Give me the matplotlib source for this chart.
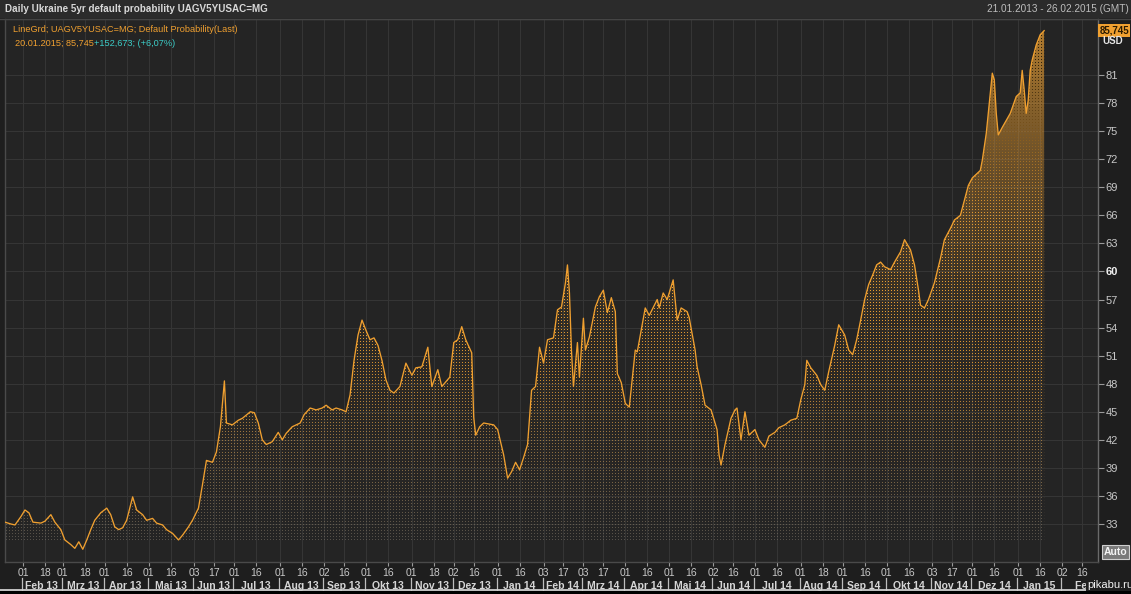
import numpy as np
import matplotlib
matplotlib.use('Agg')
import matplotlib.pyplot as plt
from matplotlib.lines import Line2D
from matplotlib.patches import Rectangle
import matplotlib.transforms as mtransforms

# Daily Ukraine 5yr default probability (UAGV5YUSAC=MG)
obs_dates = [
    '2013-01-21', '2013-01-24', '2013-01-28', '2013-01-31', '2013-02-04', '2013-02-06', '2013-02-08',
    '2013-02-14', '2013-02-18', '2013-02-21', '2013-02-25', '2013-02-28', '2013-03-04', '2013-03-07',
    '2013-03-11', '2013-03-13', '2013-03-15', '2013-03-19', '2013-03-21', '2013-03-25', '2013-03-28',
    '2013-04-02', '2013-04-04', '2013-04-08', '2013-04-10', '2013-04-12', '2013-04-16', '2013-04-19',
    '2013-04-23', '2013-04-26', '2013-04-30', '2013-05-03', '2013-05-07', '2013-05-10', '2013-05-14',
    '2013-05-17', '2013-05-22', '2013-05-24', '2013-05-29', '2013-05-31', '2013-06-05', '2013-06-07',
    '2013-06-11', '2013-06-14', '2013-06-18', '2013-06-20', '2013-06-24', '2013-06-25', '2013-06-28',
    '2013-07-03', '2013-07-05', '2013-07-11', '2013-07-15', '2013-07-17', '2013-07-19', '2013-07-23',
    '2013-07-26', '2013-07-31', '2013-08-02', '2013-08-06', '2013-08-09', '2013-08-15', '2013-08-19',
    '2013-08-22', '2013-08-27', '2013-08-30', '2013-09-03', '2013-09-06', '2013-09-10', '2013-09-13',
    '2013-09-17', '2013-09-19', '2013-09-23', '2013-09-25', '2013-09-27', '2013-10-01', '2013-10-03',
    '2013-10-07', '2013-10-09', '2013-10-11', '2013-10-15', '2013-10-17', '2013-10-21', '2013-10-24',
    '2013-10-29', '2013-11-01', '2013-11-05', '2013-11-08', '2013-11-13', '2013-11-15', '2013-11-20',
    '2013-11-22', '2013-11-28', '2013-12-02', '2013-12-04', '2013-12-06', '2013-12-10', '2013-12-13',
    '2013-12-16', '2013-12-17', '2013-12-19', '2013-12-23', '2013-12-30', '2014-01-01', '2014-01-06',
    '2014-01-08', '2014-01-10', '2014-01-14', '2014-01-16', '2014-01-20', '2014-01-22', '2014-01-24',
    '2014-01-28', '2014-01-30', '2014-02-03', '2014-02-05', '2014-02-10', '2014-02-12', '2014-02-14',
    '2014-02-18', '2014-02-19', '2014-02-20', '2014-02-21', '2014-02-24', '2014-02-26', '2014-02-27',
    '2014-03-03', '2014-03-04', '2014-03-06', '2014-03-11', '2014-03-13', '2014-03-17', '2014-03-19',
    '2014-03-21', '2014-03-25', '2014-03-26', '2014-03-28', '2014-04-01', '2014-04-03', '2014-04-08',
    '2014-04-09', '2014-04-15', '2014-04-17', '2014-04-23', '2014-04-24', '2014-04-28', '2014-04-30',
    '2014-05-05', '2014-05-07', '2014-05-09', '2014-05-14', '2014-05-15', '2014-05-20', '2014-05-21',
    '2014-05-23', '2014-05-27', '2014-05-30', '2014-06-04', '2014-06-05', '2014-06-06', '2014-06-10',
    '2014-06-13', '2014-06-17', '2014-06-18', '2014-06-20', '2014-06-24', '2014-06-26', '2014-07-01',
    '2014-07-03', '2014-07-08', '2014-07-10', '2014-07-15', '2014-07-17', '2014-07-22', '2014-07-25',
    '2014-07-30', '2014-08-01', '2014-08-05', '2014-08-06', '2014-08-08', '2014-08-13', '2014-08-15',
    '2014-08-19', '2014-08-21', '2014-08-26', '2014-08-28', '2014-09-02', '2014-09-04', '2014-09-08',
    '2014-09-10', '2014-09-12', '2014-09-16', '2014-09-18', '2014-09-22', '2014-09-24', '2014-09-26',
    '2014-09-30', '2014-10-03', '2014-10-07', '2014-10-10', '2014-10-14', '2014-10-17', '2014-10-21',
    '2014-10-23', '2014-10-24', '2014-10-28', '2014-10-30', '2014-11-04', '2014-11-07', '2014-11-11',
    '2014-11-14', '2014-11-18', '2014-11-21', '2014-11-25', '2014-11-27', '2014-12-01', '2014-12-05',
    '2014-12-08', '2014-12-10', '2014-12-12', '2014-12-15', '2014-12-16', '2014-12-17', '2014-12-18',
    '2014-12-22', '2014-12-26', '2014-12-31', '2015-01-02', '2015-01-05', '2015-01-06', '2015-01-07',
    '2015-01-08', '2015-01-09', '2015-01-12', '2015-01-14', '2015-01-16', '2015-01-20',
]
prob = [
    33.2, 33.0, 32.9, 33.8, 34.5, 34.2, 33.2,
    33.1, 33.3, 34.0, 33.2, 32.4, 31.3, 30.8,
    30.4, 31.1, 30.3, 31.3, 32.4, 33.4, 34.2,
    34.7, 34.0, 32.7, 32.4, 32.6, 33.4, 35.9,
    34.5, 34.0, 33.4, 33.6, 33.1, 32.9, 32.4,
    32.0, 31.3, 31.8, 32.7, 33.4, 34.7, 37.2,
    39.8, 39.6, 40.7, 43.4, 48.3, 43.8, 43.6,
    44.1, 44.3, 45.0, 44.9, 43.8, 42.0, 41.5,
    41.8, 42.8, 42.0, 42.7, 43.4, 43.8, 44.7,
    45.4, 45.2, 45.4, 45.7, 45.2, 45.4, 45.2,
    45.0, 46.8, 50.5, 53.2, 54.8, 53.7, 52.7,
    52.9, 52.1, 50.5, 48.4, 47.3, 47.0, 47.7,
    50.2, 48.9, 49.7, 49.8, 51.9, 47.7, 49.5,
    47.7, 48.7, 52.4, 52.7, 54.1, 52.7, 51.3,
    44.4, 42.5, 43.4, 43.8, 43.6, 43.1, 40.4,
    37.9, 38.6, 39.6, 38.8, 40.1, 41.5, 47.3,
    47.7, 51.9, 50.2, 52.7, 52.9, 55.9, 56.2,
    58.8, 60.7, 57.7, 51.6, 47.7, 52.4, 48.7,
    55.0, 51.6, 53.0, 56.2, 57.3, 58.0, 55.6,
    57.2, 55.7, 49.1, 48.1, 45.9, 45.5, 51.6,
    51.4, 56.1, 55.3, 57.0, 56.1, 57.7, 57.0,
    59.1, 54.8, 56.1, 55.7, 55.1, 51.6, 49.8,
    47.9, 45.7, 45.2, 43.1, 40.4, 39.3, 41.5,
    44.3, 45.2, 45.4, 42.0, 45.0, 42.5, 43.1,
    42.0, 41.2, 42.4, 42.8, 43.3, 43.6, 44.1,
    44.3, 46.3, 47.9, 50.5, 49.7, 48.9, 47.9,
    47.3, 49.3, 52.1, 54.3, 53.2, 51.6, 51.1,
    52.7, 54.8, 57.0, 58.6, 59.6, 60.7, 61.0,
    60.5, 60.2, 61.0, 62.1, 63.4, 62.3, 60.7,
    58.0, 56.4, 56.1, 57.0, 58.8, 61.4, 63.4,
    64.6, 65.5, 66.0, 67.6, 69.2, 70.0, 70.8,
    71.9, 74.8, 79.1, 81.2, 80.5, 76.9, 74.6,
    75.4, 76.9, 78.7, 79.1, 81.5, 79.4, 76.9,
    78.3, 81.5, 82.6, 84.2, 85.3, 85.745,
]

tick_dates = [
    '2013-02-01', '2013-02-18', '2013-03-01', '2013-03-18', '2013-04-01', '2013-04-16',
    '2013-05-01', '2013-05-16', '2013-06-03', '2013-06-17', '2013-07-01', '2013-07-16',
    '2013-08-01', '2013-08-16', '2013-09-02', '2013-09-16', '2013-10-01', '2013-10-16',
    '2013-11-01', '2013-11-18', '2013-12-02', '2013-12-16', '2014-01-01', '2014-01-16',
    '2014-02-03', '2014-02-17', '2014-03-03', '2014-03-17', '2014-04-01', '2014-04-16',
    '2014-05-01', '2014-05-16', '2014-06-02', '2014-06-16', '2014-07-01', '2014-07-16',
    '2014-08-01', '2014-08-18', '2014-09-01', '2014-09-16', '2014-10-01', '2014-10-16',
    '2014-11-03', '2014-11-17', '2014-12-01', '2014-12-16', '2015-01-01', '2015-01-16',
    '2015-02-02', '2015-02-16',
]
month_names = ['Jan', 'Feb', 'Mrz', 'Apr', 'Mai', 'Jun', 'Jul', 'Aug', 'Sep', 'Okt', 'Nov', 'Dez']
y_ticks = [33, 36, 39, 42, 45, 48, 51, 54, 57, 60, 63, 66, 69, 72, 75, 78, 81]

start_date = '2013-01-21'
end_date = '2015-02-26'
last_change = '+152,673; (+6,07%)'

W, H = 1131, 594
ORANGE = '#f0a030'


def bday(d):
    # position on a business-day axis, like the terminal chart
    return np.busday_count(np.datetime64(start_date), np.array(d, dtype='datetime64[D]'))


x = bday(obs_dates)
xmax = int(bday(end_date))
ymin, ymax = 28.94, 86.99

fig = plt.figure(figsize=(W / 100, H / 100), dpi=100, facecolor='#1e1e1e')
ax = fig.add_axes([5 / W, 32 / H, 1093 / W, 543 / H], facecolor='#242424')
font = ['Liberation Sans', 'DejaVu Sans']

# dotted, gradient area below the line
ph, pw = 543, 1093
vals = np.linspace(ymax, ymin, ph)
t = np.clip((vals - 31.0) / (85.5 - 31.0), 0, 1)
rows, cols = np.mgrid[0:ph, 0:pw]
dots = (rows % 3 == 1) & (cols % 3 == 1)
orange = np.array([0.95, 0.64, 0.20])
gray = np.array([0.52, 0.49, 0.44])
dark = np.array([0.18, 0.13, 0.05])
w_or = np.clip(t * 3.0, 0, 1)[:, None]
dot_col = gray * (1 - w_or) + orange * w_or
w_dk = np.clip((t - 0.64) / 0.3, 0, 1)[:, None]
dot_col = dot_col * (1 - w_dk) + dark * w_dk
dot_a = np.clip(0.5 + 1.0 * t, 0, 0.95)
base_a = 0.12 * t + 0.55 * np.clip((t - 0.42) / 0.58, 0, 1) ** 1.3
img = np.zeros((ph, pw, 4))
img[..., :3] = orange
img[..., 3] = base_a[:, None]
dot_rgba = np.concatenate([dot_col, dot_a[:, None]], axis=1)
dot_rgba = np.broadcast_to(dot_rgba[:, None, :], (ph, pw, 4))
img[dots] = dot_rgba[dots]
img[vals < 31.0] = 0

area = ax.fill_between(x, ymin, prob, facecolor='none', edgecolor='none')
im = ax.imshow(img, extent=[0, xmax, ymin, ymax], aspect='auto',
               interpolation='nearest', origin='upper', zorder=1.5)
im.set_clip_path(area.get_paths()[0], ax.transData)

ax.plot(x, prob, color=ORANGE, lw=0.95, zorder=3, solid_joinstyle='round')

ax.set_xlim(0, xmax)
ax.set_ylim(ymin, ymax)

# axes look
ax.grid(True, color='#353535', lw=0.8, zorder=0)
ax.set_axisbelow(True)
for side, col in [('left', '#4a4a4a'), ('right', '#6a6a6a'), ('bottom', '#4a4a4a'), ('top', '#3a3a3a')]:
    ax.spines[side].set_color(col)
    ax.spines[side].set_linewidth(1.0)

ax.set_xticks(bday(tick_dates), [d[-2:] for d in tick_dates])
ax.tick_params(axis='x', length=3, width=0.8, color='#9a9a9a', pad=1.5,
               labelsize=7.5, labelcolor='#c8c8c8')
ax.yaxis.tick_right()
ax.set_yticks(y_ticks, [str(v) for v in y_ticks])
ax.tick_params(axis='y', length=4, width=0.8, color='#9a9a9a', pad=1.5,
               labelsize=8, labelcolor='#c8c8c8')
for lab in ax.get_xticklabels() + ax.get_yticklabels():
    lab.set_fontfamily(font)
for lab in ax.get_yticklabels():
    if lab.get_text() == '60':
        lab.set_fontweight('bold')
        lab.set_color('#f0f0f0')

# month row with separators
bx = mtransforms.blended_transform_factory(ax.transData, ax.transAxes)
months = np.arange(np.datetime64('2013-02'), np.datetime64('2015-03'))
edges = [bday(str(m) + '-01') - 0.5 for m in months] + [xmax + 12]
for i, m in enumerate(months):
    ax.add_line(Line2D([edges[i]] * 2, [-0.030, -0.052], transform=bx, color='#bdbdbd',
                       lw=0.9, clip_on=False))
    mo = int(str(m)[5:7])
    ax.text((edges[i] + edges[i + 1]) / 2, -0.044, f'{month_names[mo - 1]} {str(m)[2:4]}',
            transform=bx, ha='center', va='center', fontsize=7.5, fontweight='bold',
            color='#d6d6d6', family=font, clip_on=False)

# header bar and frame bits
fig.add_artist(Rectangle((0, 1 - 18 / H), 1, 18 / H, transform=fig.transFigure,
                         facecolor='#2b2b2b', edgecolor='none', zorder=0))
fig.add_artist(Line2D([0, 1], [1 - 19 / H] * 2, transform=fig.transFigure, color='#454545', lw=1))
fig.text(5 / W, 1 - 9 / H, 'Daily Ukraine 5yr default probability UAGV5YUSAC=MG', fontsize=7.1,
         fontweight='bold', color='#d8d8d8', va='center', family=font)
fig.text(1129 / W, 1 - 9 / H, '21.01.2013 - 26.02.2015 (GMT)', fontsize=7.2, color='#bdbdbd',
         va='center', ha='right', family=font)
fig.add_artist(Line2D([0, 1], [1 - 590 / H] * 2, transform=fig.transFigure, color='#d0d0d0', lw=1.3))
fig.add_artist(Rectangle((0, 0), 1, 3.5 / H, transform=fig.transFigure,
                         facecolor='black', edgecolor='none'))

# legend lines
fig.text(13 / W, 1 - 30 / H, 'LineGrd; UAGV5YUSAC=MG; Default Probability(Last)',
         fontsize=6.6, color=ORANGE, va='center', family=font)
t2 = fig.text(15 / W, 1 - 43 / H, '20.01.2015; ' + f'{prob[-1]:.3f}'.replace('.', ','),
              fontsize=6.6, color=ORANGE, va='center', family=font)
fig.canvas.draw()
bb = t2.get_window_extent()
fig.text(bb.x1 / W, 1 - 43 / H, last_change, fontsize=6.6, color='#3ccdc8', va='center', family=font)

# last value tag, currency and Auto button
yx = mtransforms.blended_transform_factory(ax.transAxes, ax.transData)
ax.text(1.0015, prob[-1], f'{prob[-1]:.3f}'.replace('.', ','), transform=yx, fontsize=7,
        fontweight='bold', color='#2a1a00', va='center', ha='left', family=font, clip_on=False,
        bbox=dict(boxstyle='square,pad=0.12', facecolor=ORANGE, edgecolor='none'))
fig.text(1102 / W, 1 - 41 / H, 'USD', fontsize=7, fontweight='bold', color='#e6e6e6',
         va='center', family=font)
fig.text(1104 / W, 1 - 552 / H, 'Auto', fontsize=7.5, fontweight='bold', color='#f4f4f4',
         va='center', family=font,
         bbox=dict(boxstyle='square,pad=0.15', facecolor='#7a7a7a', edgecolor='#cfcfcf', lw=0.8))
fig.text(1087 / W, 1 - 585 / H, 'pikabu.ru', fontsize=8, color='#f2f2f2', va='center',
         family=font, bbox=dict(boxstyle='square,pad=0.05', facecolor='#1e1e1e', edgecolor='none'))

fig.savefig('out.png', dpi=100, facecolor=fig.get_facecolor())
